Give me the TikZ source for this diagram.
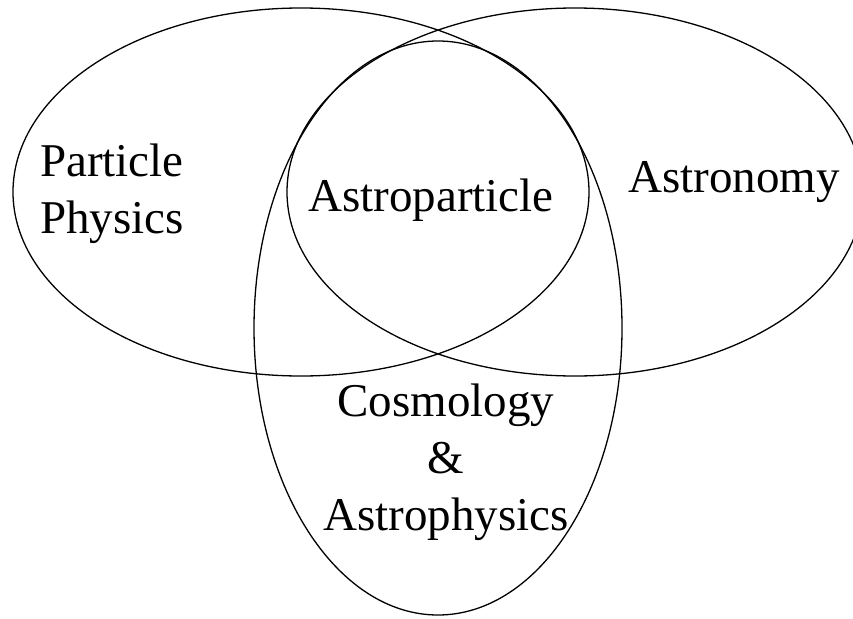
\documentclass[tikz,border=0pt]{standalone}
\usepackage{fontspec}
\setmainfont{Liberation Serif}
\begin{document}
\begin{tikzpicture}[x=1pt,y=-1pt,
  ring/.style={draw=black, line width=1.3pt},
  lbl/.style={font=\fontsize{47}{57}\selectfont, inner sep=0pt}]
\useasboundingbox (0,0) rectangle (853,618);
\draw[ring] (301,192) ellipse [x radius=288pt, y radius=184pt];
\draw[ring] (575,192) ellipse [x radius=288pt, y radius=184pt];
\draw[ring] (438,328) ellipse [x radius=184pt, y radius=287pt];
\node[lbl, anchor=base west, align=left] (pp) at (40,233) {Particle\\Physics};
\node[lbl, anchor=base] (ap) at (431,211) {Astroparticle};
\node[lbl, anchor=base] (as) at (734,192) {Astronomy};
\node[lbl, anchor=base, align=center] (ca) at (446,530) {Cosmology\\\&\\Astrophysics};
\end{tikzpicture}
\end{document}
